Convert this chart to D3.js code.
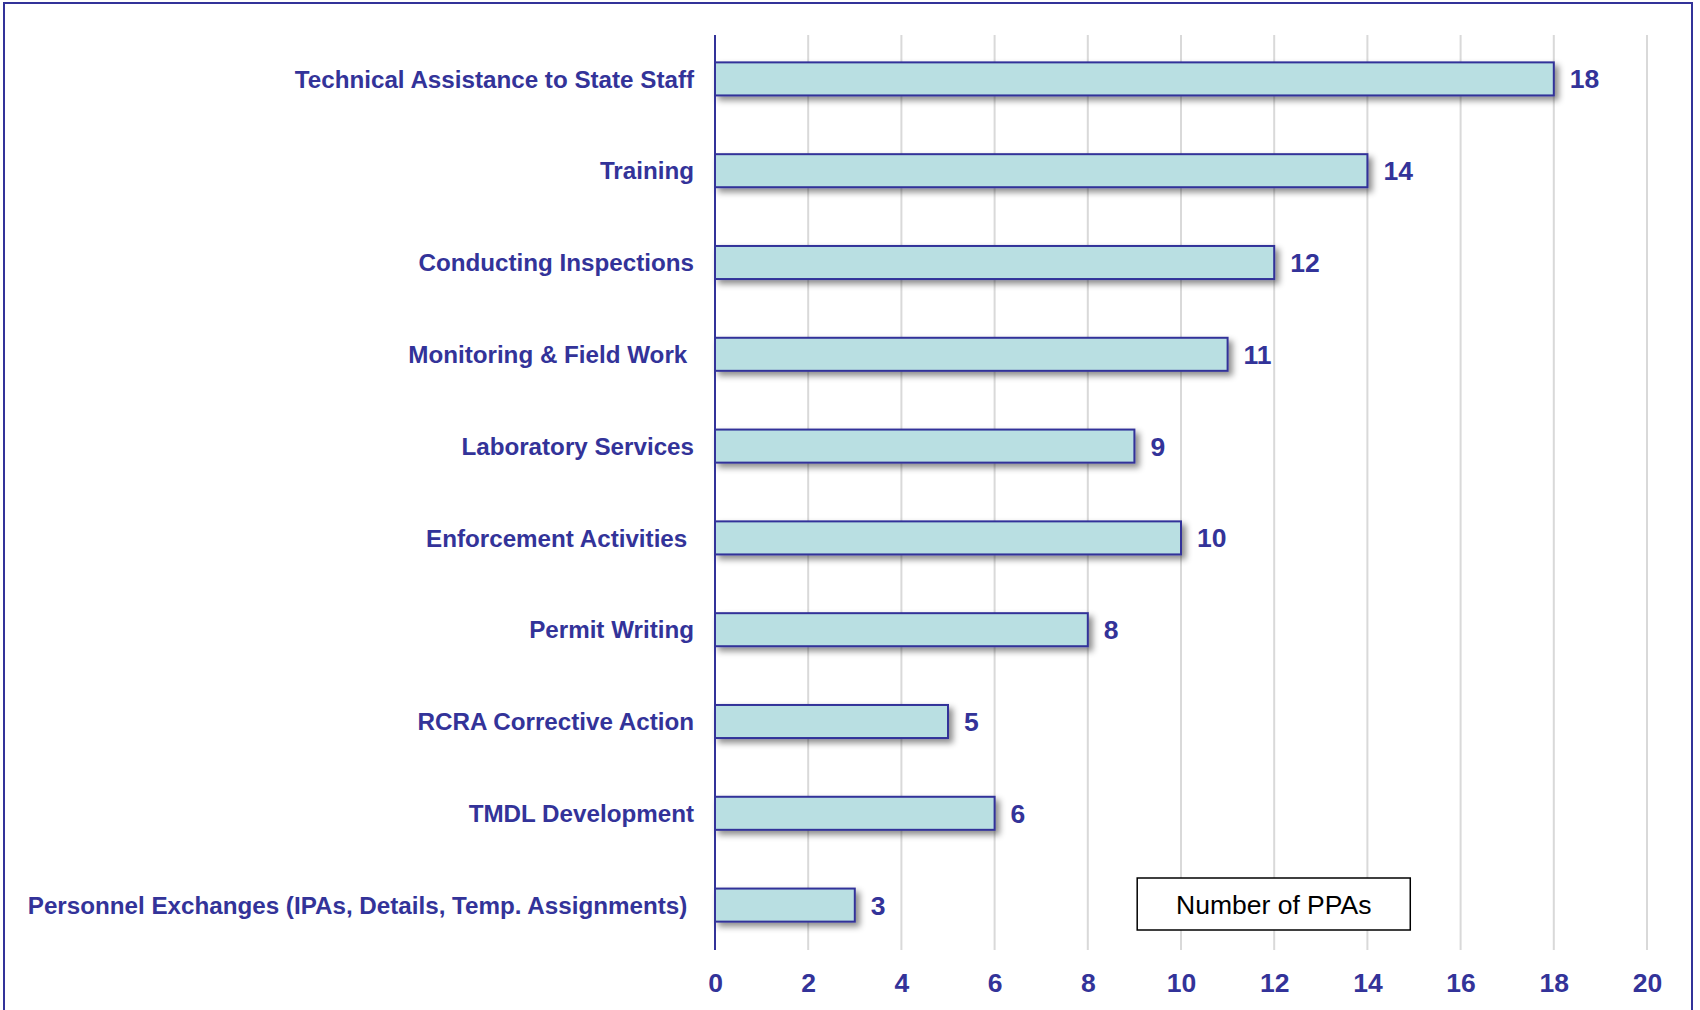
<!DOCTYPE html>
<html><head><meta charset="utf-8">
<script src="https://cdn.jsdelivr.net/npm/d3@7"></script>
<style>html,body{margin:0;padding:0;background:#fff;}svg{display:block;}</style>
</head><body>
<script>
const categories = [
  "Technical Assistance to State Staff",
  "Training",
  "Conducting Inspections",
  "Monitoring & Field Work ",
  "Laboratory Services",
  "Enforcement Activities ",
  "Permit Writing",
  "RCRA Corrective Action",
  "TMDL Development",
  "Personnel Exchanges (IPAs, Details, Temp. Assignments) "
];
const values = [18, 14, 12, 11, 9, 10, 8, 5, 6, 3];
const xTicks = [0, 2, 4, 6, 8, 10, 12, 14, 16, 18, 20];
const legendLabel = "Number of PPAs";

const W = 1700, H = 1010;
const navy = "#333399";
const font = "Arial, 'Liberation Sans', sans-serif";

const svg = d3.select("body").append("svg").attr("width", W).attr("height", H);
const defs = svg.append("defs");
const f = defs.append("filter").attr("id", "sh").attr("x", "-10%").attr("y", "-30%").attr("width", "130%").attr("height", "180%");
f.append("feDropShadow").attr("dx", 4).attr("dy", 4).attr("stdDeviation", 3).attr("flood-color", "#000").attr("flood-opacity", 0.45);

// outer border
svg.append("rect").attr("x", 4).attr("y", 3).attr("width", 1688).attr("height", 1040)
  .attr("fill", "none").attr("stroke", navy).attr("stroke-width", 2);

const x = d3.scaleLinear().domain([0, 20]).range([715, 1647]);
const y = d3.scaleBand().domain(categories).range([33, 951]).paddingInner(0.64).paddingOuter(0.32);
const axisTop = 35, axisBottom = 950;

// grid lines
svg.append("g").selectAll("line").data(xTicks.filter(d => d > 0)).join("line")
  .attr("x1", d => x(d)).attr("x2", d => x(d)).attr("y1", axisTop).attr("y2", axisBottom)
  .attr("stroke", "#d9d9d9").attr("stroke-width", 2);

// bars
const data = categories.map((c, i) => ({c, v: values[i]}));
svg.append("g").selectAll("rect").data(data).join("rect")
  .attr("x", x(0)).attr("y", d => y(d.c)).attr("width", d => x(d.v) - x(0)).attr("height", y.bandwidth())
  .attr("fill", "#b9dfe2").attr("stroke", navy).attr("stroke-width", 2).attr("filter", "url(#sh)");

// y axis line
svg.append("line").attr("x1", x(0)).attr("x2", x(0)).attr("y1", axisTop).attr("y2", axisBottom)
  .attr("stroke", navy).attr("stroke-width", 2);

// category labels
svg.append("g").selectAll("text").data(data).join("text")
  .attr("x", x(0) - 21).attr("y", d => y(d.c) + y.bandwidth() / 2).attr("dy", "0.36em")
  .attr("text-anchor", "end").attr("fill", navy).attr("font-family", font).attr("font-weight", "bold")
  .attr("font-size", 24.2).style("white-space", "pre").text(d => d.c);

// value labels
svg.append("g").selectAll("text").data(data).join("text")
  .attr("x", d => x(d.v) + 16).attr("y", d => y(d.c) + y.bandwidth() / 2).attr("dy", "0.36em")
  .attr("fill", navy).attr("font-family", font).attr("font-weight", "bold").attr("font-size", 26.5).text(d => d.v);

// x axis
const xa = svg.append("g").attr("transform", `translate(0,${axisBottom})`)
  .call(d3.axisBottom(x).tickValues(xTicks).tickSize(0).tickPadding(23));
xa.select(".domain").remove();
xa.selectAll("text").attr("fill", navy).attr("font-family", font).attr("font-weight", "bold").attr("font-size", 26.5);

// legend box
const lg = svg.append("g");
lg.append("rect").attr("x", x(9.06)).attr("y", 878).attr("width", x(14.92) - x(9.06)).attr("height", 52)
  .attr("fill", "#fff").attr("stroke", "#000").attr("stroke-width", 1.5);
lg.append("text").attr("x", (x(9.06) + x(14.92)) / 2).attr("y", 904).attr("dy", "0.36em")
  .attr("text-anchor", "middle").attr("font-family", font).attr("font-size", 26.5).attr("fill", "#000").text(legendLabel);
</script>
</body></html>
